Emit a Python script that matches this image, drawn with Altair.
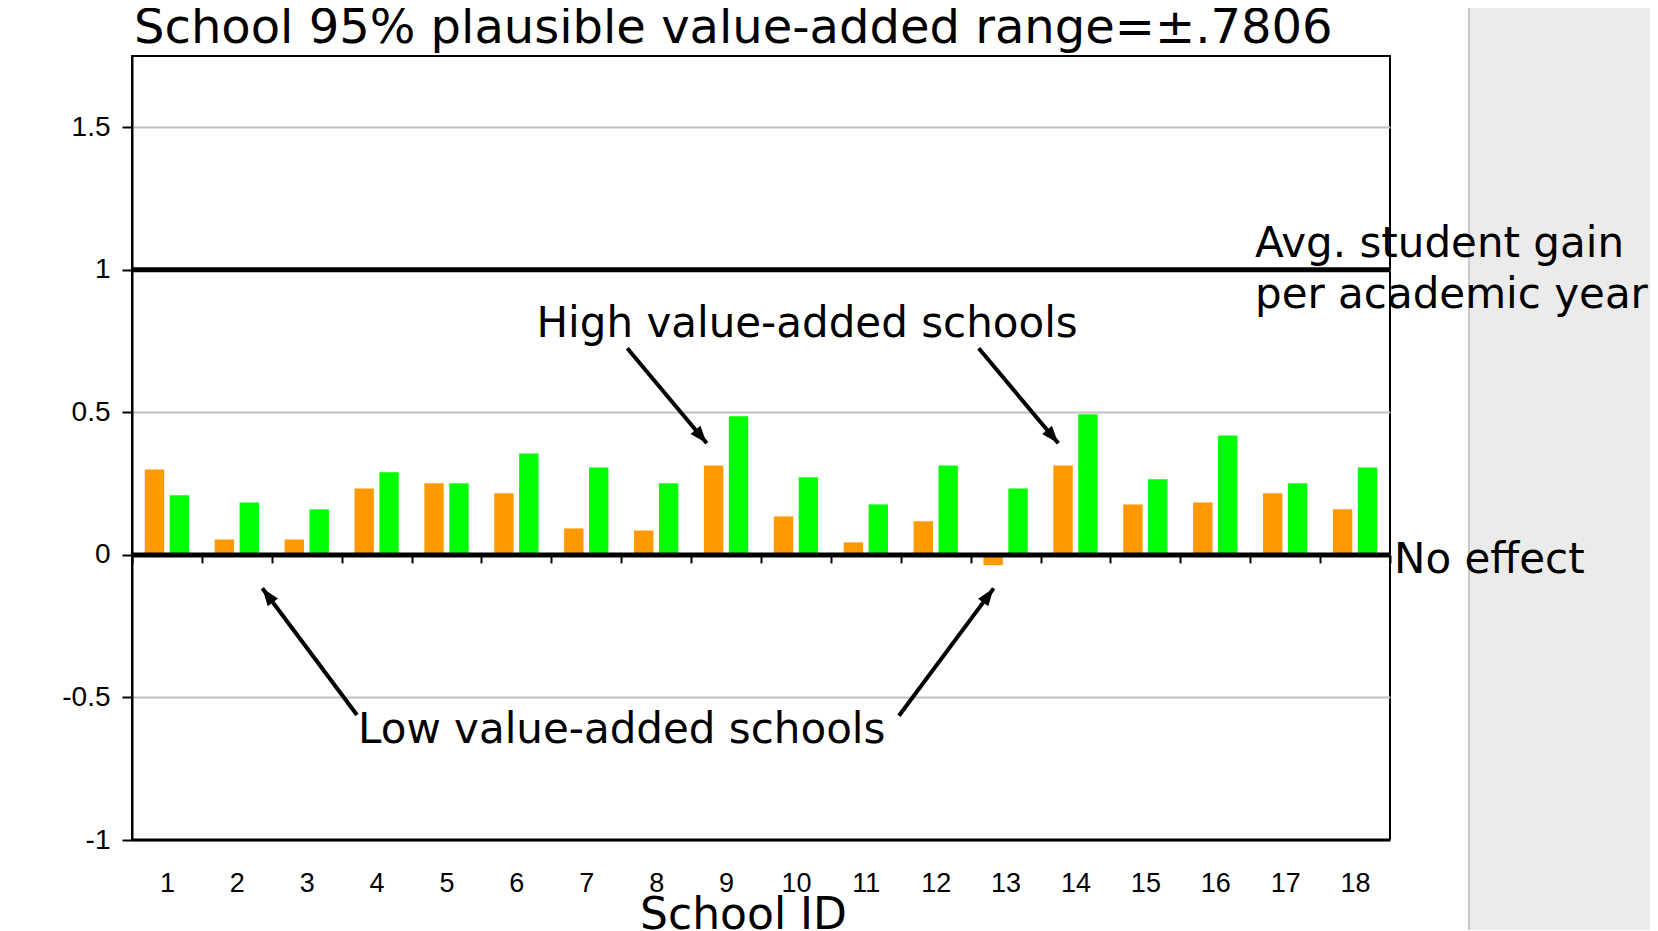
import math
import altair as alt
import pandas as pd

# ---------------- data ----------------
schools = list(range(1, 19))
series_a = [0.300, 0.054, 0.054, 0.233, 0.251, 0.216, 0.093, 0.086, 0.314,
            0.135, 0.044, 0.118, -0.036, 0.314, 0.177, 0.184, 0.216, 0.160]
series_b = [0.209, 0.184, 0.160, 0.290, 0.251, 0.356, 0.307, 0.251, 0.486,
            0.272, 0.177, 0.314, 0.233, 0.493, 0.265, 0.419, 0.251, 0.307]
series_names = ["Series 1", "Series 2"]
series_colors = ["#FF9900", "#00FF00"]
y_ticks = [-1, -0.5, 0, 0.5, 1, 1.5]
title_text = ["School 95% plausible value-added range=\u00b1.7806"]
title_x = [0.529]
title_y = [1.7945]
ref_values = [1, 0]

ann_text = ["High value-added schools", "Low value-added schools",
            "Avg. student gain", "per academic year", "No effect"]
ann_x = [6.288, 3.734, 16.568, 16.568, 18.557]
ann_y = [0.7653, -0.6608, 1.046, 0.866, -0.0624]

arrow_x0 = [7.587, 12.615, 3.719, 11.474]
arrow_y0 = [0.7247, 0.7247, -0.5616, -0.564]
arrow_x1 = [8.724, 13.754, 2.365, 12.829]
arrow_y1 = [0.3914, 0.3914, -0.1172, -0.1172]

# ---------------- layout ----------------
W, H = 1258, 784
Y_DOM = [-1, 1.75]
X_DOM = [0.5, 18.5]
PX_X = W / (X_DOM[1] - X_DOM[0])
PX_Y = H / (Y_DOM[1] - Y_DOM[0])
ZERO_PX = (Y_DOM[1] - 0) * PX_Y
VERD = "DejaVu Sans"
ARIAL = "Liberation Sans"

bars = pd.DataFrame({
    "school": schools * 2,
    "series": [series_names[0]] * 18 + [series_names[1]] * 18,
    "value": series_a + series_b,
})
refs = pd.DataFrame({"v": ref_values})
floor = pd.DataFrame({"v": [Y_DOM[0]]})
anns = pd.DataFrame({"text": ann_text, "x": ann_x, "y": ann_y})
titles = pd.DataFrame({"text": title_text, "x": title_x, "y": title_y})
arrows = pd.DataFrame({"x0": arrow_x0, "y0": arrow_y0,
                       "x1": arrow_x1, "y1": arrow_y1})
arrows["angle"] = [
    (math.degrees(math.atan2((x1 - x0) * PX_X, (y1 - y0) * PX_Y)) + 360) % 360
    for x0, y0, x1, y1 in zip(arrow_x0, arrow_y0, arrow_x1, arrow_y1)
]

yscale = alt.Scale(domain=Y_DOM, nice=False, zero=False)
xq = alt.Scale(domain=X_DOM, nice=False, zero=False)

bar_layer = alt.Chart(bars).mark_bar().encode(
    x=alt.X("school:O",
            scale=alt.Scale(paddingInner=0, paddingOuter=0),
            axis=alt.Axis(title="School ID", labelAngle=0,
                          labelFont=ARIAL, labelFontSize=27, labelColor="black",
                          labelPadding=308, tickBand="extent", tickSize=8,
                          tickWidth=2, tickColor="black", domain=False,
                          grid=False, offset=-(H - ZERO_PX),
                          titleFont=VERD, titleFontSize=44,
                          titleFontWeight="normal", titleColor="black",
                          titleX=611, titleY=374, titleBaseline="alphabetic",
                          titleAlign="center")),
    xOffset=alt.XOffset("series:N", sort=series_names,
                        scale=alt.Scale(paddingInner=0.221, paddingOuter=0.514)),
    y=alt.Y("value:Q", scale=yscale,
            axis=alt.Axis(title=None, values=y_ticks, labelExpr="'' + datum.value",
                          labelFont=ARIAL, labelFontSize=28, labelColor="black",
                          labelPadding=12, tickSize=10, tickWidth=2,
                          tickColor="black", domainColor="black", domainWidth=2,
                          grid=True, gridColor="#c0c0c0", gridWidth=2)),
    color=alt.Color("series:N", scale=alt.Scale(domain=series_names,
                                                range=series_colors),
                    legend=None),
)

bg_right = alt.Chart(pd.DataFrame({"k": [0]})).mark_rect(
    fill="#ebebeb", stroke="#c8c8c8", strokeWidth=2
).encode(x=alt.value(1337), x2=alt.value(1700),
         y=alt.value(-80), y2=alt.value(950))

ref_rules = alt.Chart(refs).mark_rule(color="black", strokeWidth=5).encode(
    y=alt.Y("v:Q", scale=yscale)
)
floor_rule = alt.Chart(floor).mark_rule(color="black", strokeWidth=3).encode(
    y=alt.Y("v:Q", scale=yscale)
)

shafts = alt.Chart(arrows).mark_rule(color="black", strokeWidth=4).encode(
    x=alt.X("x0:Q", scale=xq, axis=None),
    x2="x1:Q",
    y=alt.Y("y0:Q", scale=yscale),
    y2="y1:Q",
)
heads = alt.Chart(arrows).mark_point(
    shape="M0,0L-0.8,2.2L0.8,2.2Z", filled=True, fill="black", stroke=None,
    opacity=1, size=256
).encode(
    x=alt.X("x1:Q", scale=xq, axis=None),
    y=alt.Y("y1:Q", scale=yscale),
    angle=alt.Angle("angle:Q", scale=None),
)

texts = alt.Chart(anns).mark_text(
    font=VERD, fontSize=42, align="left", baseline="alphabetic", color="black"
).encode(
    x=alt.X("x:Q", scale=xq, axis=None),
    y=alt.Y("y:Q", scale=yscale),
    text="text:N",
)

title_layer = alt.Chart(titles).mark_text(
    font=VERD, fontSize=48, align="left", baseline="alphabetic", color="black"
).encode(
    x=alt.X("x:Q", scale=xq, axis=None),
    y=alt.Y("y:Q", scale=yscale),
    text="text:N",
)

chart = alt.layer(
    bg_right, bar_layer, ref_rules, floor_rule, shafts, heads, texts, title_layer
).resolve_scale(
    x="independent"
).properties(
    width=W, height=H,
    autosize=alt.AutoSizeParams(type="none"),
    padding={"left": 124, "top": 48, "right": 260, "bottom": 90},
    background="white",
).configure_view(stroke="black", strokeWidth=2)

chart.save("out.html", embed_options={"renderer": "svg", "actions": False})
